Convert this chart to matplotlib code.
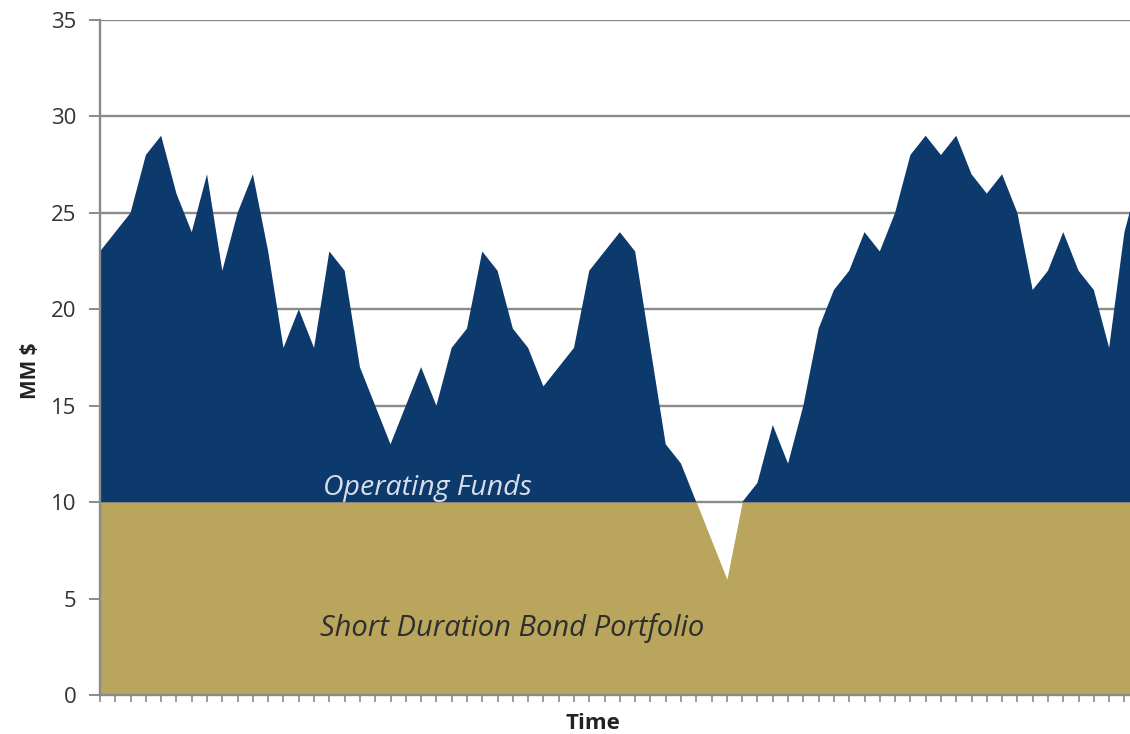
import numpy as np
import matplotlib
matplotlib.use("Agg")
import matplotlib.pyplot as plt

plt.rcParams['font.family'] = ['Open Sans', 'DejaVu Sans']

# Monthly balance (MM $)
balance = [23, 24, 25, 28, 29, 26, 24, 27, 22, 25,
           27, 23, 18, 20, 18, 23, 22, 17, 15, 13,
           15, 17, 15, 18, 19, 23, 22, 19, 18, 16,
           17, 18, 22, 23, 24, 23, 18, 13, 12, 10,
           8, 6, 10, 11, 14, 12, 15, 19, 21, 22,
           24, 23, 25, 28, 29, 28, 29, 27, 26, 27,
           25, 21, 22, 24, 22, 21, 18, 24, 27]
bond_floor = 10
y_ticks = [0, 5, 10, 15, 20, 25, 30, 35]
bond_label = "Short Duration Bond Portfolio"
operating_label = "Operating Funds"

NAVY = "#0c3a6c"
GOLD = "#b9a55c"
GRID = "#8a8a8a"

x = np.arange(len(balance))
vals = np.array(balance, dtype=float)

fig = plt.figure(figsize=(11.3, 7.34), dpi=100)
ax = fig.add_axes([100 / 1130, 39 / 734, 1 - 100 / 1130, 675 / 734])

# Bond portfolio fills up to the floor, operating funds sit above it
ax.fill_between(x, 0, np.minimum(vals, bond_floor), color=GOLD, lw=0, zorder=2)
ax.fill_between(x, bond_floor, vals, where=vals >= bond_floor, interpolate=True,
                color=NAVY, lw=0, zorder=2)

ax.set_yticks(y_ticks)
ax.set_yticklabels([str(t) for t in y_ticks], fontsize=16, color="#333333")
ax.set_xticks(x)
ax.set_xticklabels([])
ax.set_ylim(0, 35)
ax.set_xlim(0, (1130 - 100) / 15.29)

for yv in y_ticks[1:]:
    ax.axhline(yv, color=GRID, lw=1.7, zorder=1)

for side in ("top", "right"):
    ax.spines[side].set_visible(False)
for side in ("left", "bottom"):
    ax.spines[side].set_color(GRID)
    ax.spines[side].set_linewidth(1.7)
    ax.spines[side].set_zorder(3)

ax.tick_params(axis="y", length=8, width=1.4, color=GRID, pad=9)
ax.tick_params(axis="x", length=5, width=1.2, color=GRID)

ax.set_ylabel("MM $", fontsize=15, fontweight="bold", color="#222222")
ax.yaxis.set_label_coords(-0.057, 0.48)
ax.set_xlabel("Time", fontsize=16, fontweight="bold", color="#222222")
ax.xaxis.set_label_coords(0.479, -0.027)

ax.text(21.4, 10.75, operating_label, fontsize=20.5, style="italic",
        color="#d9dee8", ha="center", va="center", zorder=4)
ax.text(26.95, 3.45, bond_label, fontsize=21, style="italic",
        color="#2e2e2e", ha="center", va="center", zorder=4)

fig.savefig("out.png", dpi=100)
